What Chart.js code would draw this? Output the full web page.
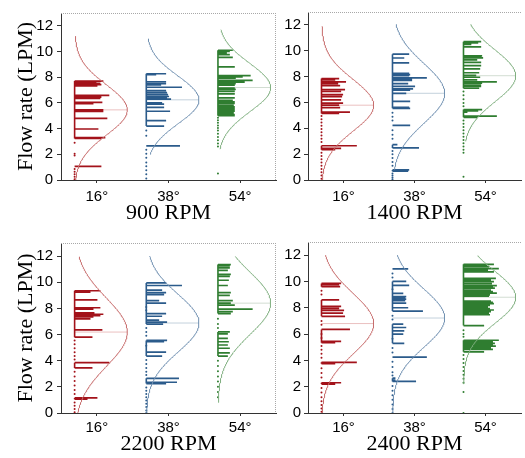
<!DOCTYPE html>
<html>
<head>
<meta charset="utf-8">
<script src="https://cdn.jsdelivr.net/npm/chart.js@4.4.0/dist/chart.umd.min.js"></script>
<style>
  html, body { margin: 0; padding: 0; background: #fff; }
  body { width: 525px; height: 458px; position: relative; overflow: hidden; }
  .panel { position: absolute; }
</style>
</head>
<body>
<div class="panel" style="left:0;top:0;width:280px;height:230px"><canvas id="p0"></canvas></div>
<div class="panel" style="left:278px;top:0;width:247px;height:230px"><canvas id="p1"></canvas></div>
<div class="panel" style="left:0;top:230px;width:280px;height:228px"><canvas id="p2"></canvas></div>
<div class="panel" style="left:278px;top:230px;width:247px;height:228px"><canvas id="p3"></canvas></div>
<script>
const categories = ['16°', '38°', '54°'];
const rpmTitles = ['900 RPM', '1400 RPM', '2200 RPM', '2400 RPM'];
const yTicks = [0, 2, 4, 6, 8, 10, 12];

// histogram bars: [flow rate (LPM), count] for 16°, 38°, 54°
const bars900 = [
  [[7.70,29],[7.62,22],[7.52,26],[7.42,27],[7.33,23],[6.58,35],[6.45,27],[6.36,26],[6.05,28],[5.95,19],[5.46,29],[5.40,27],[5.34,29],[4.80,33],[3.97,24],[3.30,31],[3.24,27],[1.06,27]],
  [[8.27,20],[8.20,10],[7.65,20],[7.50,20],[7.40,15],[7.22,36],[6.95,20],[6.80,21],[6.65,22],[6.50,23],[6.40,21],[6.30,25],[6.00,16],[5.90,18],[5.65,18],[5.35,24],[4.62,20],[4.20,18],[2.65,34]],
  [[10.10,15],[10.02,12],[9.90,9],[9.76,12],[9.54,15],[8.80,17],[8.12,33],[8.02,25],[7.92,18],[7.75,35],[7.62,27],[7.50,18],[7.38,17],[7.15,17],[7.05,18],[6.90,17],[6.70,17],[6.40,17],[6.20,15],[6.08,17],[5.96,17],[5.82,16],[5.70,17],[5.58,17],[5.47,17],[5.35,17],[5.22,16],[5.10,17],[5.00,17]]
];
const bars1400 = [
  [[7.85,18],[7.75,14],[7.60,25],[7.45,17],[7.30,19],[7.00,24],[6.85,20],[6.60,22],[6.45,21],[6.20,20],[5.95,22],[5.80,18],[5.60,19],[5.25,29],[5.15,18],[2.65,36],[2.45,20],[2.35,14]],
  [[9.74,17],[9.44,12],[9.07,17],[8.26,17],[8.16,18],[8.08,17],[7.90,35],[7.78,20],[7.70,20],[7.45,16],[7.25,23],[7.05,21],[6.95,18],[6.70,14],[6.08,18],[5.62,17],[5.55,18],[4.22,18],[2.73,5],[2.48,27],[0.78,17],[0.68,16]],
  [[10.70,18],[10.60,15],[10.50,8],[10.30,18],[9.60,19],[9.52,18],[9.45,20],[9.30,14],[9.10,18],[8.85,18],[8.60,17],[8.30,16],[8.10,13],[7.95,17],[7.75,14],[7.60,34],[7.50,19],[7.35,18],[7.25,18],[7.10,16],[5.45,19],[5.35,15],[5.25,4],[4.95,34],[4.85,14]]
];
const bars2200 = [
  [[9.35,26],[9.25,16],[8.65,23],[8.05,26],[7.95,19],[7.65,20],[7.55,29],[7.45,26],[7.35,19],[7.20,16],[6.35,28],[5.80,18],[3.85,35],[3.45,18],[1.15,23],[1.05,13]],
  [[9.95,20],[9.75,36],[9.40,16],[9.20,20],[9.05,18],[8.60,13],[8.40,20],[7.60,20],[7.40,16],[7.10,13],[6.95,21],[6.80,17],[5.55,21],[5.45,18],[4.65,20],[4.35,16],[2.65,33],[2.35,31],[2.25,20]],
  [[11.35,13],[11.25,12],[11.10,12],[10.90,10],[10.60,13],[10.45,12],[10.15,11],[9.75,10],[9.20,13],[9.00,12],[8.60,15],[8.40,13],[8.25,17],[7.95,35],[7.75,15],[7.60,13],[6.20,12],[6.05,10],[5.70,10],[5.45,11],[5.20,10],[4.95,12],[4.60,12],[4.35,10]]
];
const bars2400 = [
  [[9.85,20],[9.75,18],[9.60,19],[8.60,18],[8.10,20],[7.95,18],[7.80,23],[7.60,22],[7.35,24],[6.35,29],[5.45,20],[5.35,14],[3.85,36],[3.75,14],[2.30,20],[2.20,14]],
  [[10.95,16],[10.00,14],[9.70,17],[9.10,11],[8.85,14],[8.75,13],[8.65,14],[8.55,13],[8.35,14],[8.00,16],[7.75,31],[6.75,11],[6.50,14],[6.25,12],[6.00,11],[5.30,12],[4.25,35],[2.65,3],[2.50,3],[2.40,24]],
  [[11.30,31],[11.20,24],[11.12,26],[10.98,36],[10.85,25],[10.73,31],[10.24,33],[10.12,28],[9.99,31],[9.84,29],[9.69,34],[9.58,30],[9.50,32],[9.35,28],[9.22,30],[9.12,34],[8.98,27],[8.88,26],[8.51,28],[8.41,30],[8.31,31],[8.18,27],[8.06,25],[7.93,27],[7.83,31],[7.71,28],[7.60,26],[7.47,27],[6.65,21],[5.53,36],[5.40,30],[5.30,32],[5.18,30],[5.08,33],[4.95,28],[4.83,30],[4.65,21]]
];

// single observations shown as dots on the column
const dots900 = [
  [2.90, 2.05, 1.90, 0.85, 0.65, 0.45, 0.25, 0.05],
  [3.85, 3.45, 2.36, 2.04, 1.74, 1.37, 1.07, 0.75, 0.45, 0.12],
  [4.85, 4.65, 4.45, 4.25, 4.05, 3.85, 3.60, 3.35, 3.10, 2.85, 2.60, 0.50]
];
const dots1400 = [
  [4.95, 4.70, 4.45, 4.20, 3.95, 3.70, 3.45, 3.20, 2.95, 2.10, 1.85, 1.60, 1.35, 1.10, 0.85, 0.60, 0.35, 0.10],
  [5.20, 4.90, 4.60, 3.85, 3.50, 3.20, 2.25, 2.00, 1.70, 1.40, 1.10, 0.50, 0.35, 0.20, 0.05],
  [6.85, 6.55, 6.25, 5.95, 5.70, 4.60, 4.35, 4.10, 3.85, 3.60, 3.35, 3.10, 2.85, 2.60, 2.35, 2.10, 0.25]
];
const dots2200 = [
  [5.55, 5.25, 4.95, 4.65, 4.35, 4.10, 3.15, 2.80, 2.45, 2.10, 1.75, 1.45, 0.80, 0.55, 0.30, 0.05],
  [8.10, 7.85, 6.50, 6.20, 5.90, 5.15, 4.05, 3.75, 3.45, 3.15, 2.90, 1.95, 1.70, 1.45, 1.20, 0.95, 0.70, 0.45, 0.20, 0.00],
  [7.20, 6.80, 6.50, 4.00, 3.60, 3.20, 2.80, 2.40, 2.00, 1.60, 1.20]
];
const dots2400 = [
  [9.30, 9.00, 7.00, 6.70, 6.00, 5.70, 5.10, 4.80, 4.50, 4.20, 3.40, 3.05, 2.70, 1.90, 1.55, 1.20, 0.90, 0.60, 0.35, 0.10],
  [10.60, 10.30, 9.40, 7.40, 7.10, 5.65, 4.95, 4.60, 3.90, 3.50, 3.10, 2.85, 2.05, 1.70, 1.35, 1.00, 0.65, 0.30, 0.00],
  [6.30, 6.00, 5.80, 4.40, 4.10, 3.80, 3.50, 3.20, 2.90, 2.60, 2.30, 1.60, 0.00]
];

// fitted normal curves per panel: mean, sd, drawn span
const meanFlow = [[5.46, 6.24, 7.20], [5.79, 6.71, 8.07], [6.19, 6.88, 8.40], [6.80, 7.22, 8.80]];
const sdFlow = [[1.95, 1.85, 1.88], [2.00, 2.30, 2.00], [2.60, 2.20, 2.40], [2.30, 2.20, 1.97]];
const curveSpan = [
  [[0, 11.2], [2.0, 11.0], [2.4, 11.7]],
  [[0, 11.9], [0.8, 12.05], [3.0, 12.05]],
  [[0, 11.95], [0, 12.0], [0.8, 11.97]],
  [[0, 12.0], [0, 12.0], [2.2, 11.97]]
];

const barsByPanel = [bars900, bars1400, bars2200, bars2400];
const dotsByPanel = [dots900, dots1400, dots2200, dots2400];

const barColors = ['#a3121a', '#2b5b8b', '#2f7d30'];
const curveColors = ['#c66a6a', '#6f8fb0', '#7eae7e'];
const meanColors = ['#ebc0c0', '#c3d1dc', '#d2ddd2'];

const SANS = "'Liberation Sans Narrow', 'Liberation Sans', Arial, sans-serif";
const SERIF = "'Liberation Serif', 'Times New Roman', serif";
const GROUP_BASE = 0.19;     // column position inside each category slot
const COUNT_W = 1 / 72.3;    // x units per count
const PEAK_W = 0.735;        // peak width of the fitted curve
const JOIN_GAP = 0.9;

Chart.defaults.font.family = SANS;
Chart.defaults.font.size = 15;
Chart.defaults.color = '#000';

const framePlugin = {
    id: 'frame',
    afterDraw(chart, args, opts) {
        const a = chart.chartArea;
        const ctx = chart.ctx;
        ctx.save();
        ctx.strokeStyle = '#a8a8a8';
        ctx.lineWidth = 1;
        ctx.setLineDash([1, 1]);
        ctx.beginPath();
        ctx.moveTo(a.left, a.top + 0.5);
        ctx.lineTo(a.right, a.top + 0.5);
        if (opts.right) {
            ctx.moveTo(a.right - 0.5, a.top);
            ctx.lineTo(a.right - 0.5, a.bottom);
        }
        ctx.stroke();
        ctx.restore();
    }
};

function buildDatasets(p) {
    const curves = [], bars = [], columns = [], dots = [], means = [];
    for (let g = 0; g < 3; g++) {
        const base = g + GROUP_BASE;
        const color = barColors[g];
        const mu = meanFlow[p][g];
        const sd = sdFlow[p][g];
        const [lo, hi] = curveSpan[p][g];

        const curve = [];
        const dens = y => base + PEAK_W * Math.exp(-((y - mu) ** 2) / (2 * sd * sd));
        for (let y = lo; y < hi; y += 0.05) curve.push({ x: dens(y), y: y });
        curve.push({ x: dens(hi), y: hi });
        curves.push({ data: curve, borderColor: curveColors[g], borderWidth: 1 });

        const seg = [];
        barsByPanel[p][g].forEach(([v, n]) => {
            seg.push({ x: base, y: v }, { x: base + n * COUNT_W, y: v }, { x: base, y: null });
        });
        bars.push({ data: seg, borderColor: color, borderWidth: 1.7 });

        const vals = barsByPanel[p][g].map(b => b[0]).sort((a, b) => b - a);
        const col = [];
        vals.forEach((v, i) => {
            if (i > 0 && vals[i - 1] - v > JOIN_GAP) col.push({ x: base, y: null });
            col.push({ x: base, y: v });
        });
        columns.push({ data: col, borderColor: color, borderWidth: 1.6 });

        dots.push({
            data: dotsByPanel[p][g].map(v => ({ x: base, y: v })),
            showLine: false, pointRadius: 1, pointBackgroundColor: color, pointBorderWidth: 0
        });

        means.push({
            data: [{ x: base, y: mu }, { x: base + PEAK_W, y: mu }],
            borderColor: meanColors[g], borderWidth: 1
        });
    }
    return [...curves, ...bars, ...columns, ...dots, ...means];
}

function createPanel(p, cfg) {
    const ctx = document.getElementById('p' + p).getContext('2d');
    new Chart(ctx, {
        type: 'line',
        data: { datasets: buildDatasets(p) },
        options: {
            responsive: true,
            maintainAspectRatio: false,
            animation: false,
            events: [],
            spanGaps: false,
            layout: { padding: cfg.padding },
            elements: { point: { radius: 0 }, line: { tension: 0 } },
            plugins: {
                legend: { display: false },
                tooltip: { enabled: false },
                frame: { right: cfg.rightBorder }
            },
            scales: {
                x: {
                    type: 'linear',
                    min: 0,
                    max: 3,
                    afterBuildTicks: s => { s.ticks = categories.map((c, i) => ({ value: i + 0.5 })); },
                    afterFit: s => { s.height = cfg.xHeight; },
                    ticks: {
                        callback: (v, i) => categories[i],
                        padding: cfg.xPad,
                        maxRotation: 0,
                        autoSkip: false,
                        font: { size: 15 }
                    },
                    grid: { drawOnChartArea: false, drawTicks: true, tickLength: 3, color: '#333' },
                    border: { display: true, color: '#333', width: 1 },
                    title: {
                        display: true,
                        text: rpmTitles[p],
                        font: { family: SERIF, size: 22 },
                        padding: { top: 0, bottom: cfg.titlePad }
                    }
                },
                y: {
                    type: 'linear',
                    min: 0,
                    max: 13,
                    afterBuildTicks: s => { s.ticks = yTicks.map(v => ({ value: v })); },
                    afterFit: s => { s.width = cfg.yWidth; },
                    ticks: { padding: cfg.yPad, font: { size: 15 } },
                    grid: { drawOnChartArea: false, drawTicks: true, tickLength: 4, color: '#333' },
                    border: { display: true, color: '#333', width: 1 },
                    title: {
                        display: cfg.yTitle,
                        text: 'Flow rate (LPM)',
                        font: { family: SERIF, size: 22 },
                        padding: { top: 13, bottom: 0 }
                    }
                }
            }
        },
        plugins: [framePlugin]
    });
}

createPanel(0, { padding: { top: 5, right: 2, left: 0, bottom: 0 }, yWidth: 61, xHeight: 50, xPad: 5, yPad: 4, titlePad: 4, yTitle: true, rightBorder: true });
createPanel(1, { padding: { top: 5, right: 0, left: 0, bottom: 0 }, yWidth: 30, xHeight: 50, xPad: 5, yPad: 3, titlePad: 4, yTitle: false, rightBorder: false });
createPanel(2, { padding: { top: 8, right: 2, left: 0, bottom: 0 }, yWidth: 61, xHeight: 45, xPad: 3, yPad: 4, titlePad: 1, yTitle: true, rightBorder: true });
createPanel(3, { padding: { top: 8, right: 0, left: 0, bottom: 0 }, yWidth: 30, xHeight: 45, xPad: 3, yPad: 3, titlePad: 1, yTitle: false, rightBorder: false });
</script>
</body>
</html>
